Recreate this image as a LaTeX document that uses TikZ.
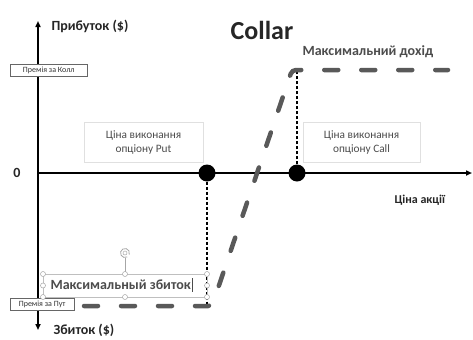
\documentclass[tikz,border=0pt]{standalone}
\usepackage{fontspec}
\setmainfont{Carlito}
\usetikzlibrary{arrows.meta}
\begin{document}
\begin{tikzpicture}[x=1pt,y=-1pt,
  axis/.style={line width=1.8pt,-{Triangle[length=6pt,width=5pt]}},
  lbl/.style={font=\bfseries\fontsize{14}{16}\selectfont,text=black!85},
  infobox/.style={draw=black!12,fill=white,align=center,font=\fontsize{11.3}{14}\selectfont,text=black!70,minimum width=119pt,minimum height=40pt,inner sep=2pt},
  prem/.style={draw=black!60,fill=white,font=\fontsize{8}{9}\selectfont,text=black!80,inner sep=1.5pt,anchor=west},
  dot/.style={circle,fill=black,minimum size=17pt,inner sep=0pt},
  guide/.style={line width=1.3pt,dash pattern=on 3pt off 2pt},
  payoff/.style={line width=4.5pt,black!65,line cap=round,dash pattern=on 14pt off 23pt,rounded corners=4pt},
  handle/.style={circle,draw=black!35,fill=white,minimum size=5pt,inner sep=0pt,line width=0.5pt}]
\fill[white] (0,0) rectangle (473,338);
% axes
\coordinate (o) at (38,173);
\coordinate (ytop) at (38,21);
\coordinate (ybot) at (38,330);
\coordinate (xend) at (472,173);
\draw[axis] (o) -- (ytop);
\draw[axis] (o) -- (ybot);
\draw[axis] (o) -- (xend);
% labels
\node[lbl,anchor=west] (profit) at (48,26) {Прибуток (\$)};
\node[lbl,anchor=west] (loss) at (50,330) {Збиток (\$)};
\node[font=\bfseries\fontsize{26}{28}\selectfont,text=black!85] (title) at (262,30) {Collar};
\node[lbl] (zero) at (17,173) {0};
\node[font=\bfseries\fontsize{12}{14}\selectfont,text=black!85,anchor=west] (price) at (391,200) {Ціна акції};
\node[font=\bfseries\fontsize{14}{16}\selectfont,text=black!70,anchor=west] (maxinc) at (299,52) {Максимальний дохід};
% info boxes
\node[infobox] (putbox) at (143.5,142.5) {Ціна виконання\\опціону Put};
\node[infobox,minimum width=117pt] (callbox) at (361.5,142.5) {Ціна виконання\\опціону Call};
% guides
\node[dot] (putdot) at (207,173) {};
\node[dot] (calldot) at (297,173) {};
\coordinate (putlow) at (207,305);
\coordinate (callhigh) at (297,68);
\draw[guide] (putdot) -- (putlow);
\draw[guide] (calldot) -- (callhigh);
% payoff
\coordinate (p1) at (84,306);
\coordinate (p2) at (212,306);
\coordinate (p3) at (292,70);
\coordinate (p4) at (448,70);
\draw[payoff] (p1) -- (p2) -- (p3) -- (p4);
% premium boxes
\node[prem,minimum width=77pt,minimum height=12pt] (callprem) at (10,70) {Премія за Колл};
\node[prem,minimum width=64pt,minimum height=12pt] (putprem) at (10,304) {Премія за Пут};
% selected text box
\draw[black!25,line width=0.5pt] (43,274) rectangle (207,297);
\node[font=\bfseries\fontsize{14}{16}\selectfont,text=black!70,anchor=west] (maxloss) at (47,285) {Максимальный збиток};
\draw[black!70,line width=0.4pt] (192,278) -- (192,292);
\coordinate (rot) at (125,253);
\draw[black!35,line width=0.5pt] (125,258) -- (125,274);
\draw[black!35,line width=0.8pt] (rot) ++(60:4.5) arc (60:380:4.5);
\draw[black!35,line width=0.5pt] (rot) circle (2pt);
\foreach \p in {(43,274),(125,274),(207,274),(43,285.5),(207,285.5),(43,297),(125,297),(207,297)}
  \node[handle] at \p {};
\end{tikzpicture}
\end{document}
